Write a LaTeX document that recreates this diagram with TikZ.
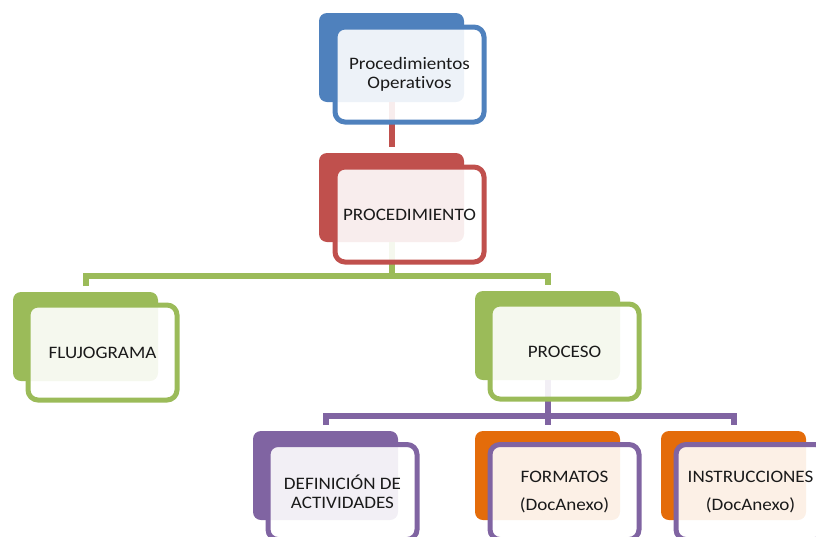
\documentclass[tikz,border=0pt]{standalone}
\usepackage{fontspec}
\setmainfont{Carlito}[FakeStretch=1.09,Ligatures={NoCommon,NoRare}]
\usetikzlibrary{calc}
\definecolor{cblue}{HTML}{4F81BD}
\definecolor{cred}{HTML}{C0504D}
\definecolor{cgreen}{HTML}{9BBB59}
\definecolor{cpurple}{HTML}{8064A2}
\definecolor{corange}{HTML}{E46C0A}
\definecolor{ctext}{HTML}{1A1A1A}
\begin{document}
\begin{tikzpicture}[x=1pt,y=-1pt,
  backbox/.style={fill=#1, rounded corners=8pt, minimum width=145pt, minimum height=89pt,
    inner sep=0pt, outer sep=0pt, anchor=north west},
  frontbox/.style={draw=#1, line width=5pt, fill=white, fill opacity=0.9, text opacity=1,
    rounded corners=10pt, minimum width=149pt, minimum height=95pt, inner sep=2pt,
    outer sep=0pt, anchor=north west, align=center, text=ctext,
    font=\fontsize{17.5}{19}\selectfont},
  conn/.style={draw=#1, line width=6pt}]
\useasboundingbox (0,0) rectangle (816,536);
\clip (0,0) rectangle (816,536);
% back boxes
\node[backbox=cblue]   (b1) at (319,13) {};
\node[backbox=cred]    (b2) at (319,153) {};
\node[backbox=cgreen]  (b3) at (13,292) {};
\node[backbox=cgreen]  (b4) at (475,291) {};
\node[backbox=cpurple] (b5) at (253,431) {};
\node[backbox=corange] (b6) at (475,431) {};
\node[backbox=corange] (b7) at (661,431) {};
% connectors
\coordinate (gy) at (0,275.5);
\coordinate (py) at (0,415.5);
\draw[conn=cred] (b1.south) -- ($(b2.north)+(0,-6)$);
\draw[conn=cgreen] (b2.south) -- (b2.south |- gy);
\draw[conn=cgreen] ($(b3.north)+(0,-6)$) |- (b4.north |- gy) -- ($(b4.north)+(0,-6)$);
\draw[conn=cpurple] (b4.south) -- (b4.south |- py);
\draw[conn=cpurple] ($(b5.north)+(0,-6)$) |- (b7.north |- py) -- ($(b7.north)+(0,-6)$);
\draw[conn=cpurple] (b6.north |- py) -- ($(b6.north)+(0,-6)$);
% front boxes
\node[frontbox=cblue]   (f1) at ($(b1.north west)+(16,14)$) {Procedimientos\\Operativos};
\node[frontbox=cred]    (f2) at ($(b2.north west)+(16,14)$) {PROCEDIMIENTO};
\node[frontbox=cgreen]  (f3) at ($(b3.north west)+(15,13)$) {FLUJOGRAMA};
\node[frontbox=cgreen]  (f4) at ($(b4.north west)+(15,13)$) {PROCESO};
\node[frontbox=cpurple] (f5) at ($(b5.north west)+(15,13.5)$) {DEFINICIÓN DE\\ACTIVIDADES};
\node[frontbox=cpurple] (f6) at ($(b6.north west)+(15,13.5)$) {FORMATOS\\[9.5pt](DocAnexo)};
\node[frontbox=cpurple] (f7) at ($(b7.north west)+(15,13.5)$) {INSTRUCCIONES\\[9.5pt](DocAnexo)};
\end{tikzpicture}
\end{document}
